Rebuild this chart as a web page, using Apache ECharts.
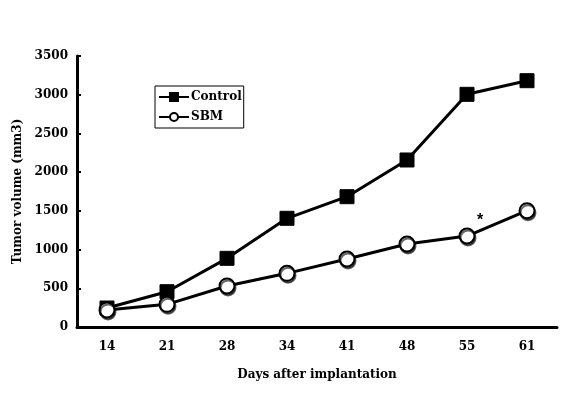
<!DOCTYPE html>
<html>
<head>
<meta charset="utf-8">
<script src="https://cdn.jsdelivr.net/npm/echarts@6/dist/echarts.min.js"></script>
<style>
  html, body { margin: 0; padding: 0; background: #fff; }
  #chart { width: 574px; height: 396px; }
</style>
</head>
<body>
<div id="chart"></div>
<script>
// 肿瘤体积
const days = ["14", "21", "28", "34", "41", "48", "55", "61"];
const controlData = [245, 456, 887, 1404, 1683, 2157, 3005, 3181];
const sbmData = [220, 293, 530, 693, 878, 1072, 1175, 1502];
const yTicks = [0, 500, 1000, 1500, 2000, 2500, 3000, 3500];

const serif = "DejaVu Serif";
const chart = echarts.init(document.getElementById("chart"));

const option = {
  animation: false,
  backgroundColor: "#fff",
  grid: { left: 77, right: 17, top: 56, bottom: 69 },
  legend: {
    orient: "vertical",
    left: 155,
    top: 86,
    padding: [5, 2, 5, 3],
    itemGap: 8,
    itemWidth: 30,
    itemHeight: 10,
    borderColor: "#000",
    borderWidth: 1,
    textStyle: { fontFamily: serif, fontWeight: "bold", fontSize: 12, color: "#000", padding: [0, 0, 0, -3] },
    data: ["Control", "SBM"]
  },
  xAxis: {
    type: "category",
    data: days,
    boundaryGap: true,
    axisLine: { lineStyle: { color: "#000", width: 3 } },
    axisTick: { inside: true, length: 5, lineStyle: { color: "#000", width: 2 } },
    axisLabel: { margin: 14, fontFamily: serif, fontWeight: "bold", fontSize: 12, color: "#000" },
    name: "Days after implantation",
    nameLocation: "middle",
    nameGap: 42,
    nameTextStyle: { fontFamily: serif, fontWeight: "bold", fontSize: 12, color: "#000" }
  },
  yAxis: {
    type: "value",
    min: yTicks[0],
    max: yTicks[yTicks.length - 1],
    interval: 500,
    splitLine: { show: false },
    axisLine: { show: true, lineStyle: { color: "#000", width: 3 } },
    axisTick: { show: true, inside: true, length: 4, lineStyle: { color: "#000", width: 2 } },
    axisLabel: { margin: 9, fontFamily: serif, fontWeight: "bold", fontSize: 12, color: "#000", formatter: (v) => String(v) },
    name: "Tumor volume (mm3)",
    nameLocation: "middle",
    nameGap: 52,
    nameTextStyle: { fontFamily: serif, fontWeight: "bold", fontSize: 12, color: "#000" }
  },
  series: [
    {
      name: "Control",
      type: "line",
      data: controlData,
      symbol: "rect",
      symbolSize: 14,
      lineStyle: { color: "#000", width: 3 },
      itemStyle: { color: "#000", borderColor: "#000", borderWidth: 1 },
      z: 2
    },
    {
      name: "SBM",
      type: "line",
      data: sbmData.map((v, i) =>
        i === 6
          ? { value: v, label: { show: true, formatter: "*", offset: [13, 6], fontSize: 16, fontWeight: "bold", color: "#000" } }
          : v
      ),
      symbol: "circle",
      symbolSize: 15,
      lineStyle: { color: "#000", width: 3 },
      itemStyle: {
        color: "#fff",
        borderColor: "#000",
        borderWidth: 2,
        shadowColor: "rgba(0,0,0,0.6)",
        shadowOffsetX: 1,
        shadowOffsetY: 2,
        shadowBlur: 0
      },
      z: 3
    }
  ]
};
chart.setOption(option);
</script>
</body>
</html>
